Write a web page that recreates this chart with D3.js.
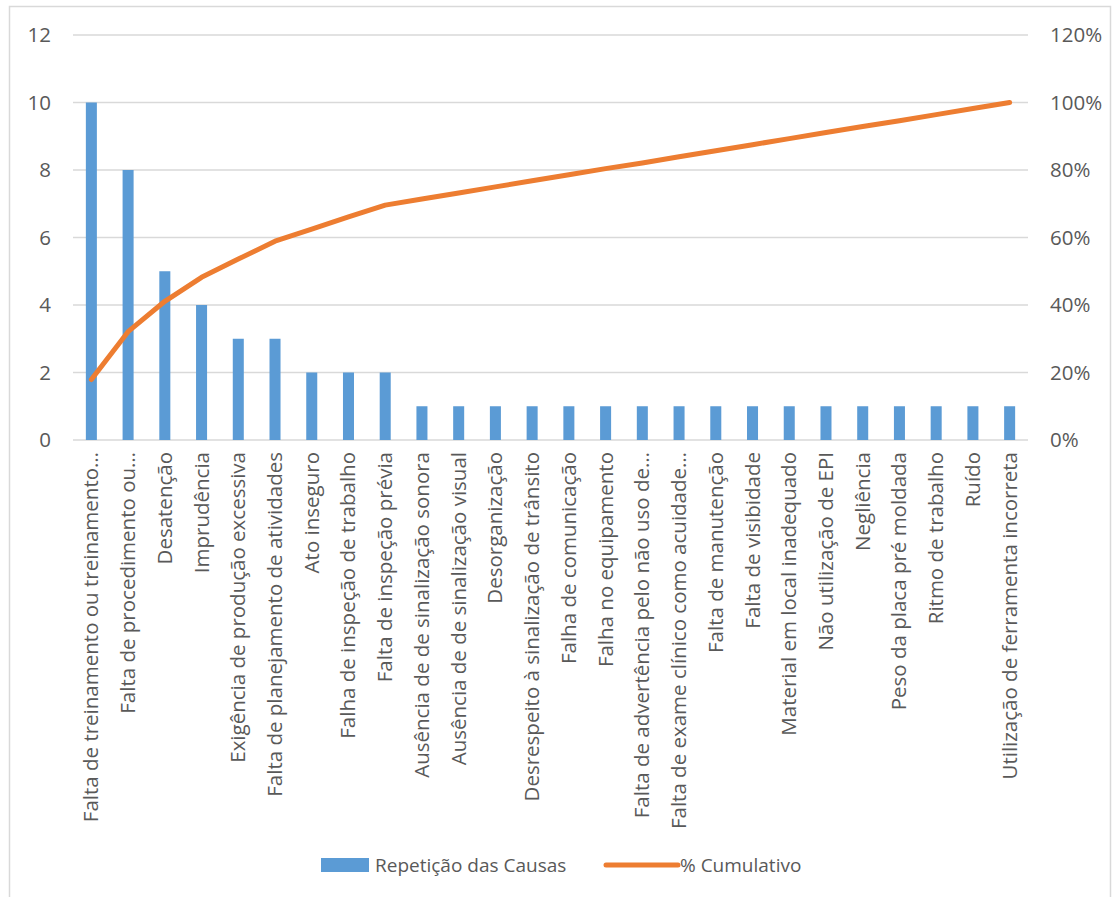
<!DOCTYPE html>
<html>
<head>
<meta charset="utf-8">
<script src="https://cdn.jsdelivr.net/npm/d3@7"></script>
<style>
  body { margin: 0; background: #fff; }
  text { font-family: "Open Sans", sans-serif; fill: #595959; }
</style>
</head>
<body>
<script>
const width = 1113;
const height = 897;

// categories (labels as they appear, truncated ones keep the ellipsis)
const causes = [
  "Falta de treinamento ou treinamento…",
  "Falta de procedimento ou…",
  "Desatenção",
  "Imprudência",
  "Exigência de produção excessiva",
  "Falta de planejamento de atividades",
  "Ato inseguro",
  "Falha de inspeção de trabalho",
  "Falta de inspeção prévia",
  "Ausência de de sinalização sonora",
  "Ausência de de sinalização visual",
  "Desorganização",
  "Desrespeito à sinalização de trânsito",
  "Falha de comunicação",
  "Falha no equipamento",
  "Falta de advertência pelo não uso de…",
  "Falta de exame clínico como acuidade…",
  "Falta de manutenção",
  "Falta de visibidade",
  "Material em local inadequado",
  "Não utilização de EPI",
  "Negliência",
  "Peso da placa pré moldada",
  "Ritmo de trabalho",
  "Ruído",
  "Utilização de ferramenta incorreta"
];

const repeticoes = [10, 8, 5, 4, 3, 3, 2, 2, 2, 1, 1, 1, 1, 1, 1, 1, 1, 1, 1, 1, 1, 1, 1, 1, 1, 1];

const cumulativo = [17.9, 32.1, 41.1, 48.2, 53.6, 58.9, 62.5, 66.1, 69.6, 71.4, 73.2, 75.0, 76.8,
  78.6, 80.4, 82.1, 83.9, 85.7, 87.5, 89.3, 91.1, 92.9, 94.6, 96.4, 98.2, 100];

const leftTicks = [0, 2, 4, 6, 8, 10, 12];
const rightTicks = [0, 20, 40, 60, 80, 100, 120];

const barColor = "#5b9bd5";
const lineColor = "#ed7d31";

const plot = { left: 73, right: 1028, top: 35, bottom: 440 };

const svg = d3.select("body")
    .append("svg")
    .attr("width", width)
    .attr("height", height);

// chart border
svg.append("rect")
    .attr("x", 9.5).attr("y", 6.5)
    .attr("width", 1101).attr("height", 895)
    .attr("fill", "#fff")
    .attr("stroke", "#d9d9d9")
    .attr("stroke-width", 1.5);

const xScale = d3.scaleBand()
    .domain(causes)
    .range([plot.left, plot.right])
    .paddingInner(0.7)
    .paddingOuter(0.35);

const yScale = d3.scaleLinear()
    .domain([0, 12])
    .range([plot.bottom, plot.top]);

const y2Scale = d3.scaleLinear()
    .domain([0, 120])
    .range([plot.bottom, plot.top]);

const xCenter = d => xScale(d) + xScale.bandwidth() / 2;

// gridlines
svg.append("g")
    .selectAll("line")
    .data(leftTicks)
    .join("line")
    .attr("x1", plot.left)
    .attr("x2", plot.right)
    .attr("y1", d => yScale(d))
    .attr("y2", d => yScale(d))
    .attr("stroke", "#d9d9d9")
    .attr("stroke-width", 1.5);

// left axis
const yAxis = d3.axisLeft(yScale).tickValues(leftTicks).tickSize(0).tickPadding(0);
svg.append("g")
    .attr("transform", `translate(${plot.left - 22}, 0)`)
    .call(yAxis)
    .call(g => g.select(".domain").remove())
    .selectAll("text")
    .attr("font-size", 20.5)
    .attr("font-family", "Open Sans, sans-serif")
    .attr("fill", "#595959");

// right axis
const y2Axis = d3.axisRight(y2Scale).tickValues(rightTicks).tickSize(0).tickPadding(0)
    .tickFormat(d => d + "%");
svg.append("g")
    .attr("transform", `translate(${plot.right + 22}, 0)`)
    .call(y2Axis)
    .call(g => g.select(".domain").remove())
    .selectAll("text")
    .attr("font-size", 20.5)
    .attr("font-family", "Open Sans, sans-serif")
    .attr("fill", "#595959");

// bars
svg.append("g")
    .selectAll("rect")
    .data(causes)
    .join("rect")
    .attr("x", d => xScale(d))
    .attr("width", xScale.bandwidth())
    .attr("y", (d, i) => yScale(repeticoes[i]))
    .attr("height", (d, i) => yScale(0) - yScale(repeticoes[i]))
    .attr("fill", barColor);

// category labels
svg.append("g")
    .selectAll("text")
    .data(causes)
    .join("text")
    .attr("transform", d => `translate(${xCenter(d) + 7}, ${plot.bottom + 12}) rotate(-90)`)
    .attr("text-anchor", "end")
    .attr("font-size", 20.5)
    .text(d => d);

// cumulative line
const line = d3.line()
    .x((d, i) => xCenter(causes[i]))
    .y(d => y2Scale(d));

svg.append("path")
    .datum(cumulativo)
    .attr("d", line)
    .attr("fill", "none")
    .attr("stroke", lineColor)
    .attr("stroke-width", 5)
    .attr("stroke-linecap", "round")
    .attr("stroke-linejoin", "round");

// legend
const legend = svg.append("g").attr("transform", "translate(0, 865)");
legend.append("rect")
    .attr("x", 321).attr("y", -7)
    .attr("width", 48).attr("height", 14)
    .attr("fill", barColor);
legend.append("text")
    .attr("x", 375).attr("y", 7)
    .attr("font-size", 19)
    .text("Repetição das Causas");
legend.append("line")
    .attr("x1", 606).attr("x2", 678)
    .attr("y1", 0).attr("y2", 0)
    .attr("stroke", lineColor)
    .attr("stroke-width", 5)
    .attr("stroke-linecap", "round");
legend.append("text")
    .attr("x", 680).attr("y", 7)
    .attr("font-size", 19)
    .text("% Cumulativo");
</script>
</body>
</html>
